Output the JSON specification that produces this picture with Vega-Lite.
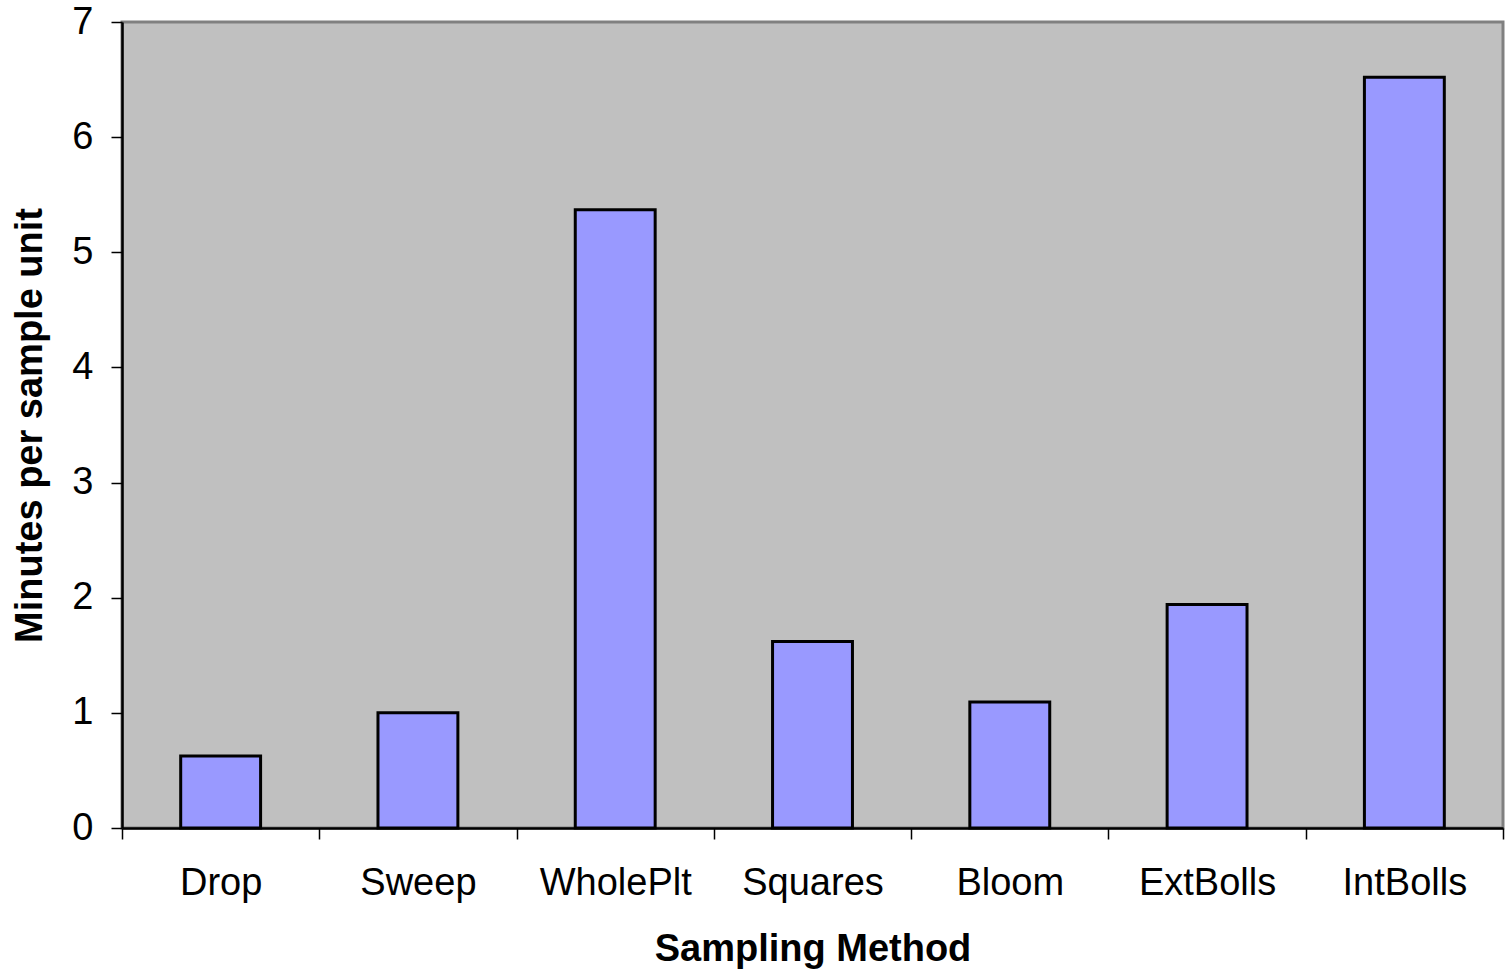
{
  "$schema": "https://vega.github.io/schema/vega-lite/v6.json",
  "width": 1381,
  "height": 806,
  "autosize": "none",
  "padding": {"left": 122, "top": 22, "right": 2, "bottom": 141},
  "background": "white",
  "config": {
    "view": {"fill": "#C0C0C0", "stroke": "#808080", "strokeWidth": 3},
    "font": "Liberation Sans"
  },
  "data": {
    "values": [
      {"method": "Drop", "minutes": 0.625},
      {"method": "Sweep", "minutes": 1.0},
      {"method": "WholePlt", "minutes": 5.37},
      {"method": "Squares", "minutes": 1.62},
      {"method": "Bloom", "minutes": 1.095},
      {"method": "ExtBolls", "minutes": 1.94},
      {"method": "IntBolls", "minutes": 6.52}
    ]
  },
  "mark": {"type": "bar", "fill": "#9999FF", "stroke": "black", "strokeWidth": 3, "width": {"band": 0.405}},
  "encoding": {
    "x": {
      "field": "method",
      "type": "nominal",
      "sort": null,
      "scale": {"paddingInner": 0, "paddingOuter": 0},
      "axis": {
        "title": "Sampling Method",
        "titleFont": "Liberation Sans",
        "titleFontSize": 38,
        "titleFontWeight": "bold",
        "titleColor": "black",
        "titlePadding": 28,
        "labelAngle": 0,
        "labelFontSize": 38,
        "labelColor": "black",
        "labelPadding": 25,
        "tickBand": "extent",
        "tickSize": 11,
        "tickColor": "black",
        "tickWidth": 1.5,
        "domainColor": "black",
        "domainWidth": 2.5,
        "grid": false
      }
    },
    "y": {
      "field": "minutes",
      "type": "quantitative",
      "scale": {"domain": [0, 7], "nice": false},
      "axis": {
        "title": "Minutes per sample unit",
        "titleFont": "Liberation Sans",
        "titleFontSize": 38,
        "titleFontWeight": "bold",
        "titleColor": "black",
        "titlePadding": 22,
        "values": [0, 1, 2, 3, 4, 5, 6, 7],
        "labelFontSize": 38,
        "labelColor": "black",
        "labelPadding": 18,
        "tickSize": 11,
        "tickColor": "black",
        "tickWidth": 1.5,
        "domainColor": "black",
        "domainWidth": 2.5,
        "grid": false
      }
    }
  }
}
